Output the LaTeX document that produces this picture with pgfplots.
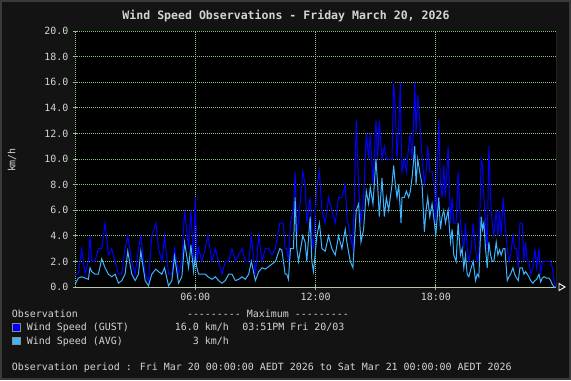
\documentclass[border=0pt]{standalone}
\usepackage{pgfplots}
\pgfplotsset{compat=1.18}
\usepackage{pgfplotstable}
\usepackage{fontspec}
\setmainfont{DejaVu Sans Mono}
\definecolor{bgouter}{HTML}{3A3A3A}
\definecolor{bginner}{HTML}{131313}
\definecolor{txt}{HTML}{D4D4D4}
\definecolor{gridg}{HTML}{8CC484}
\definecolor{axg}{HTML}{B8C8A8}
\definecolor{olivebd}{HTML}{8C8C48}
\definecolor{gust}{HTML}{0000FF}
\definecolor{avg}{HTML}{3CB4FF}
\definecolor{boxbd}{HTML}{8C8C8C}

% minutes since midnight, gust, average (km/h)
\pgfplotstableread{
m g a
0 1.0 0.2
10 1.0 0.7
20 3.0 0.8
30 1.0 0.7
40 2.0 0.6
45 4.0 1.5
50 2.0 1.2
60 2.0 1.0
70 3.0 1.0
80 3.0 2.2
90 5.0 1.5
100 2.5 1.0
110 3.0 0.8
120 2.0 1.0
130 1.0 0.3
140 1.0 0.5
150 3.0 1.0
158 4.0 2.8
170 2.0 1.0
180 1.0 0.5
190 3.0 1.0
197 4.0 2.8
210 1.0 0.5
220 0.5 0.1
230 4.0 1.0
242 5.0 1.4
250 3.0 1.2
260 2.0 1.0
268 4.0 1.5
280 1.0 0.1
290 1.0 0.5
298 3.0 2.4
310 1.0 0.3
320 2.0 0.8
328 6.0 3.5
340 3.0 1.5
347 6.0 3.3
355 2.0 1.2
360 7.0 2.4
365 2.0 1.5
370 3.0 1.0
380 2.0 1.0
390 3.0 1.0
398 4.0 0.8
410 2.0 0.6
420 3.0 0.8
430 2.0 0.5
440 1.0 0.3
450 2.0 0.5
460 2.0 1.0
470 3.0 1.0
480 2.0 0.5
490 2.5 0.6
500 3.0 0.8
510 2.0 0.6
520 2.0 1.0
528 4.0 2.0
540 1.0 0.5
550 4.0 1.2
560 2.0 1.5
570 3.0 1.4
580 3.0 1.6
590 2.5 1.8
600 3.0 2.0
613 5.0 3.0
619 5.0 2.9
624 5.0 2.0
629 3.0 1.0
634 3.0 1.0
639 2.0 0.6
645 5.0 3.0
654 6.0 3.0
659 9.0 7.0
664 4.0 3.0
669 5.0 2.0
682 9.0 4.0
689 8.0 3.5
694 5.0 2.0
704 7.0 5.5
709 4.0 2.0
714 3.0 1.2
724 8.0 4.0
732 9.0 5.0
739 6.0 3.0
749 5.0 2.8
759 7.0 4.0
769 6.0 3.0
779 5.0 2.5
789 7.0 4.0
799 7.0 3.0
809 8.0 4.5
814 5.5 3.5
824 4.0 2.0
832 3.0 1.5
842 13.0 6.0
849 8.0 6.5
856 5.0 3.5
864 7.0 4.5
872 12.0 7.5
879 10.0 6.5
884 12.0 7.8
892 8.0 6.5
901 13.0 10.0
906 10.0 8.0
911 13.0 5.5
919 10.0 8.5
926 11.0 5.5
932 10.0 7.0
939 10.0 6.0
949 10.0 8.0
954 16.0 9.5
959 14.0 8.0
964 10.0 7.0
969 12.5 8.0
974 16.0 6.0
976 12.0 5.0
979 9.0 7.0
986 10.0 7.0
992 9.0 7.5
999 11.0 7.0
1004 12.0 7.5
1009 10.0 8.5
1014 13.0 10.0
1017 16.0 11.0
1021 12.0 8.0
1026 15.0 10.0
1032 13.0 9.0
1039 10.0 8.0
1046 8.0 4.3
1051 9.0 6.0
1056 11.0 7.0
1062 9.0 5.5
1069 9.0 6.5
1076 8.0 5.0
1080 5.0 4.0
1089 13.0 7.0
1094 8.0 4.5
1099 7.0 5.5
1104 9.5 6.0
1109 7.0 5.0
1117 11.0 6.0
1124 5.0 3.5
1129 7.0 4.5
1134 5.0 2.5
1141 5.0 2.0
1147 9.0 5.0
1154 5.0 2.5
1159 4.0 3.0
1164 3.0 1.5
1169 5.0 2.5
1174 3.0 1.0
1179 2.0 0.8
1186 3.0 1.5
1192 5.0 2.0
1199 3.0 0.5
1204 2.0 1.0
1209 2.5 0.8
1216 10.0 5.5
1220 9.5 4.5
1224 7.0 5.0
1229 5.0 3.0
1234 3.0 1.5
1239 11.0 3.5
1244 7.0 2.5
1249 5.0 2.0
1254 4.0 2.0
1261 6.0 3.5
1266 4.0 2.5
1271 6.0 2.9
1276 4.0 2.5
1282 7.0 3.0
1287 5.0 3.0
1294 3.0 0.5
1299 2.0 0.8
1304 2.5 1.0
1311 4.0 1.5
1316 3.0 1.0
1322 3.0 0.7
1327 1.5 0.5
1332 5.0 1.5
1339 5.0 1.5
1344 2.0 1.0
1349 3.5 1.2
1354 2.0 1.0
1359 2.0 0.8
1364 1.0 0.5
1371 1.5 0.3
1377 3.0 0.5
1382 1.5 0.6
1389 3.0 1.0
1394 1.0 0.4
1399 2.0 0.7
1404 2.0 0.8
1411 2.0 0.7
1419 2.0 0.7
1424 2.0 0.5
1429 1.5 0.2
1434 0.5 0.0
1440 0.0 0.0
}\windtable

\begin{document}
\begin{tikzpicture}[x=1bp,y=1bp]
\fill[bgouter] (0,0) rectangle (571,380);
\fill[bginner] (2,2) rectangle (569,378);
\path[use as bounding box] (0,0) rectangle (571,380);
\begin{axis}[
  at={(75bp,93bp)}, anchor=south west,
  scale only axis, width=481bp, height=256bp,
  xmin=0, xmax=1440, ymin=0, ymax=20,
  axis background/.style={fill=black},
  xtick={360,720,1080}, xticklabels={06:00,12:00,18:00},
  ytick={0,2,...,20},
  grid=major,
  major grid style={gridg, dash pattern=on 1bp off 1bp, line width=0.8bp},
  axis x line*=bottom, axis y line*=left,
  x axis line style={axg, line width=1bp},
  y axis line style={gridg, dash pattern=on 1bp off 1bp, line width=1bp},
  tick style={gridg, line width=0.8bp},
  major tick length=5bp, tick align=center,
  /pgf/number format/.cd, fixed, fixed zerofill, precision=1, assume math mode=true,
  /pgfplots/.cd,
  yticklabel style={font=\fontsize{10}{12}\selectfont, text=txt, inner sep=0pt, xshift=-4bp},
  xticklabel style={font=\fontsize{10}{12}\selectfont, text=txt, inner sep=0pt, yshift=-3bp},
  clip=true,
]
\addplot[gust, line width=1bp] table[x=m, y=g] {\windtable};
\addplot[avg, line width=1bp] table[x=m, y=a] {\windtable};
\draw[olivebd, line width=1bp] (rel axis cs:1,0) -- (rel axis cs:1,1);
\end{axis}
\draw[white, line width=0.9bp] (559,96.5) -- (565,93) -- (559,89.5) -- cycle;
\node[txt, font=\fontsize{11.6}{13}\selectfont\bfseries, anchor=base] at (286,361) {Wind Speed Observations - Friday March 20, 2026};
\node[txt, font=\fontsize{10}{12}\selectfont, rotate=90, anchor=center] at (12,220) {km/h};
\begin{scope}[every node/.style={txt, font=\fontsize{10}{12}\selectfont, inner sep=0pt}]
\node[anchor=base west] at (11.7,62.1) {Observation};
\node[anchor=base west] at (186.8,62.1) {-{}-{}-{}-{}-{}-{}-{}-{}- Maximum -{}-{}-{}-{}-{}-{}-{}-{}-};
\node[anchor=base west] at (26.6,49.1) {Wind Speed (GUST)};
\node[anchor=base east] at (229,49.1) {16.0 km/h};
\node[anchor=base west] at (242.2,49.1) {03:51PM Fri 20/03};
\node[anchor=base west] at (26.6,35.7) {Wind Speed (AVG)};
\node[anchor=base east] at (229,35.7) {3 km/h};
\node[anchor=base west] at (11.7,9.7) {Observation period : Fri Mar 20 00:00:00 AEDT 2026 to Sat Mar 21 00:00:00 AEDT 2026};
\end{scope}
\filldraw[fill=gust, draw=boxbd, line width=1bp] (12.5,48.8) rectangle (20.3,56.2);
\filldraw[fill=avg, draw=boxbd, line width=1bp] (12.5,35.5) rectangle (20.3,42.9);
\end{tikzpicture}
\end{document}
